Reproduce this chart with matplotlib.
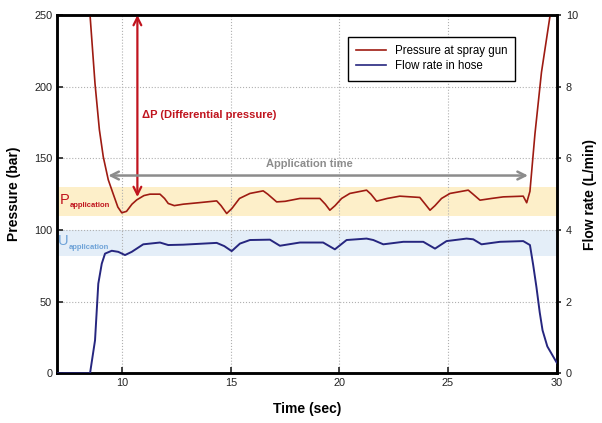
import matplotlib
matplotlib.use("Agg")
import matplotlib.pyplot as plt
from matplotlib.lines import Line2D

plt.rcParams['font.family'] = ['Liberation Sans', 'DejaVu Sans']

# ---------------- data ----------------
t_pres = [8.45, 8.52, 8.75, 8.95, 9.13, 9.36, 9.59, 9.8, 9.98, 10.2, 10.45, 10.67,
          11.0, 11.28, 11.74, 11.95, 12.12, 12.4, 12.81, 13.5, 14.35, 14.55, 14.81,
          15.05, 15.4, 15.88, 16.49, 16.7, 17.11, 17.5, 18.18, 19.1, 19.35, 19.56,
          19.8, 20.1, 20.48, 21.25, 21.45, 21.71, 22.2, 22.78, 23.7, 23.95, 24.17,
          24.4, 24.7, 25.09, 25.93, 26.15, 26.47, 27.0, 27.54, 28.46, 28.62, 28.77,
          29.0, 29.3, 29.7, 29.75]
pressure = [262, 250, 202, 170, 151, 135, 125, 116, 112, 113, 118, 121,
            124, 125, 125, 122, 118.5, 117, 118, 119, 120.3, 117, 111.5,
            115, 122, 125.5, 127.3, 125, 119.6, 120, 122, 122, 118, 113.8,
            117, 122, 125.5, 127.8, 125, 120.1, 122, 123.6, 122.7, 118, 113.8,
            117, 122, 125.5, 127.8, 125, 120.8, 122, 123.1, 123.6, 119, 127,
            167, 210, 250, 258]

t_flow = [7.0, 8.52, 8.75, 8.9, 9.06, 9.21, 9.52, 9.82, 10.13, 10.44, 10.97, 11.74,
          12.12, 12.81, 14.35, 14.7, 15.04, 15.42, 15.88, 16.8, 17.26, 18.18, 19.25,
          19.79, 20.33, 21.25, 21.56, 22.02, 22.94, 23.86, 24.4, 24.93, 25.85, 26.16,
          26.54, 27.39, 28.46, 28.77, 28.92, 29.07, 29.22, 29.35, 29.57, 30.0]
flow = [0, 0, 0.92, 2.5, 3.06, 3.34, 3.42, 3.39, 3.30, 3.39, 3.6, 3.65,
        3.58, 3.59, 3.64, 3.55, 3.41, 3.62, 3.72, 3.73, 3.56, 3.65, 3.65,
        3.46, 3.72, 3.76, 3.72, 3.6, 3.67, 3.67, 3.48, 3.69, 3.76, 3.74,
        3.6, 3.67, 3.69, 3.58, 3.02, 2.4, 1.7, 1.2, 0.75, 0.3]

p_band = [110, 130]
u_band = [82, 100]
app_time = [9.36, 28.68]
dp_x = 10.7
dp_range = [123, 250]

x_ticks = [10, 15, 20, 25, 30]
y_ticks = [0, 50, 100, 150, 200, 250]
y2_ticks = [0, 2, 4, 6, 8, 10]

red_line = '#9E1B12'
blue_line = '#26267F'
ann_red = '#C0141E'
light_blue = '#6FA3D8'
gray = '#8C8C8C'

fig = plt.figure(figsize=(6.02, 4.23), dpi=100)
ax = fig.add_axes([0.0947, 0.1175, 0.83, 0.847])
ax2 = ax.twinx()

# bands
ax.axhspan(p_band[0], p_band[1], color='#FDEFC9', zorder=0, lw=0)
ax.axhspan(u_band[0], u_band[1], color='#E4EEF8', zorder=0, lw=0)

# curves
ax.plot(t_pres, pressure, color=red_line, lw=1.2, zorder=3)
ax2.plot(t_flow, flow, color=blue_line, lw=1.4, zorder=3)

ax.set_xlim(7, 30)
ax.set_ylim(0, 250)
ax2.set_ylim(0, 10)
ax.set_xticks(x_ticks)
ax.set_yticks(y_ticks)
ax2.set_yticks(y2_ticks)

ax.grid(True, linestyle=':', color='#B0B0B0', lw=0.8)
ax.tick_params(direction='in', length=4, width=1.2, labelsize=7.8, colors='#222222')
ax2.tick_params(direction='out', length=3, width=1.2, labelsize=7.8, colors='#222222')
for a in (ax, ax2):
    for s in a.spines.values():
        s.set_linewidth(1.8)

ax.set_xlabel('Time (sec)', fontsize=10, fontweight='bold', labelpad=10)
ax.set_ylabel('Pressure (bar)', fontsize=10, fontweight='bold', labelpad=9)
ax2.set_ylabel('Flow rate (L/min)', fontsize=10, fontweight='bold', labelpad=4)

# differential pressure arrow
ax.annotate('', xy=(dp_x, dp_range[0]), xytext=(dp_x, dp_range[1]),
            arrowprops=dict(arrowstyle='<->', color=ann_red, lw=1.6,
                            mutation_scale=14, shrinkA=0, shrinkB=0), zorder=5)
ax.text(dp_x + 0.22, 180, '\u0394P (Differential pressure)', color=ann_red,
        fontsize=8, fontweight='bold', va='center')

# application time arrow
ax.annotate('', xy=(app_time[0], 138), xytext=(app_time[1], 138),
            arrowprops=dict(arrowstyle='<->', color=gray, lw=1.8,
                            mutation_scale=14, shrinkA=0, shrinkB=0), zorder=5)
ax.text(18.6, 146, 'Application time', color=gray, fontsize=8,
        fontweight='bold', ha='center', va='center')

# band labels
ax.text(7.12, 121, 'P', color=ann_red, fontsize=10.5, va='center')
ax.annotate('application', xy=(7.12, 121), xytext=(7.5, -4), textcoords='offset points',
            color=ann_red, fontsize=5.5, fontweight='bold', va='center')
ax.text(7.03, 92, 'U', color=light_blue, fontsize=10.5, va='center')
ax.annotate('application', xy=(7.03, 92), xytext=(8, -4), textcoords='offset points',
            color=light_blue, fontsize=5.5, fontweight='bold', va='center')

# legend
handles = [Line2D([], [], color=red_line, lw=1.2), Line2D([], [], color=blue_line, lw=1.2)]
leg = ax.legend(handles, ['Pressure at spray gun', 'Flow rate in hose'],
                loc='upper left', bbox_to_anchor=(0.57, 0.955), fontsize=8.3,
                fancybox=False, edgecolor='black', framealpha=1,
                handlelength=2.6, borderpad=0.7, labelspacing=0.3)
leg.get_frame().set_linewidth(1.0)
leg.set_zorder(10)

fig.savefig('out.png', dpi=100)
